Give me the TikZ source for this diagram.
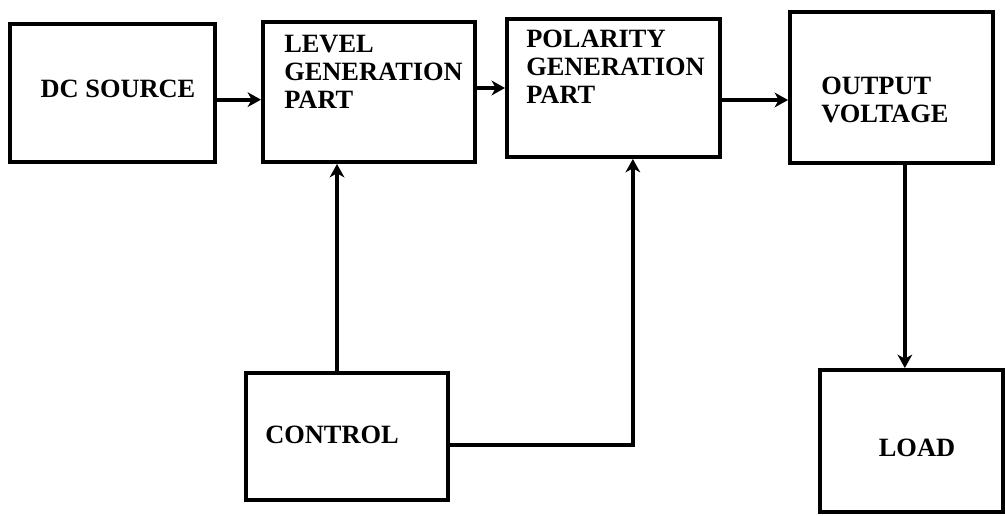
\documentclass[tikz,border=0pt]{standalone}
\usepackage{fontspec}
\setmainfont{Liberation Serif}
\usetikzlibrary{arrows.meta}
\begin{document}
\begin{tikzpicture}[x=0.75pt,y=-0.75pt,
  blk/.style={draw,line width=3pt,inner sep=0pt},
  lbl/.style={font=\fontsize{19.8}{21}\selectfont\bfseries,align=left,inner sep=0pt},
  flow/.style={line width=3pt,-{Stealth[length=10pt,width=11pt,inset=3pt]}}]
\useasboundingbox (0,0) rectangle (1005,516);
% blocks
\node[blk,minimum width=153.75pt,minimum height=103.5pt] (dc) at (112.5,93) {};
\node[blk,minimum width=159pt,minimum height=105pt] (lvl) at (369,92) {};
\node[blk,minimum width=159.75pt,minimum height=103.5pt] (pol) at (613.5,88) {};
\node[blk,minimum width=152.25pt,minimum height=113.25pt] (out) at (891.5,87.5) {};
\node[blk,minimum width=151.5pt,minimum height=95.25pt] (ctrl) at (347,436.5) {};
\node[blk,minimum width=137.25pt,minimum height=106.5pt] (load) at (911.5,441) {};
% texts
\node[lbl] (dctxt) at (118,89) {DC SOURCE};
\node[lbl,anchor=west] (lvltxt) at (284,72) {LEVEL\\GENERATION\\PART};
\node[lbl,anchor=west] (poltxt) at (526,67) {POLARITY\\GENERATION\\PART};
\node[lbl,anchor=west] (outtxt) at (821,100) {OUTPUT\\VOLTAGE};
\node[lbl] (ctrltxt) at (332,435) {CONTROL};
\node[lbl] (loadtxt) at (917,448) {LOAD};
% connectors
\draw[flow] ([yshift=-5pt]dc.east) -- ([yshift=-5pt]dc.east -| lvl.west);
\draw[flow] (lvl.east |- pol.west) -- (pol.west);
\draw[flow] ([yshift=-9pt]pol.east) -- ([yshift=-9pt]pol.east -| out.west);
\draw[flow] ([xshift=10pt]out.south) -- ([xshift=10pt]out.south |- load.north);
\draw[flow] ([xshift=-7.5pt]ctrl.north) -- ([xshift=-7.5pt]ctrl.north |- lvl.south);
\draw[flow] ([yshift=-6.5pt]ctrl.east) -| ([xshift=14.5pt]pol.south);
\end{tikzpicture}
\end{document}
